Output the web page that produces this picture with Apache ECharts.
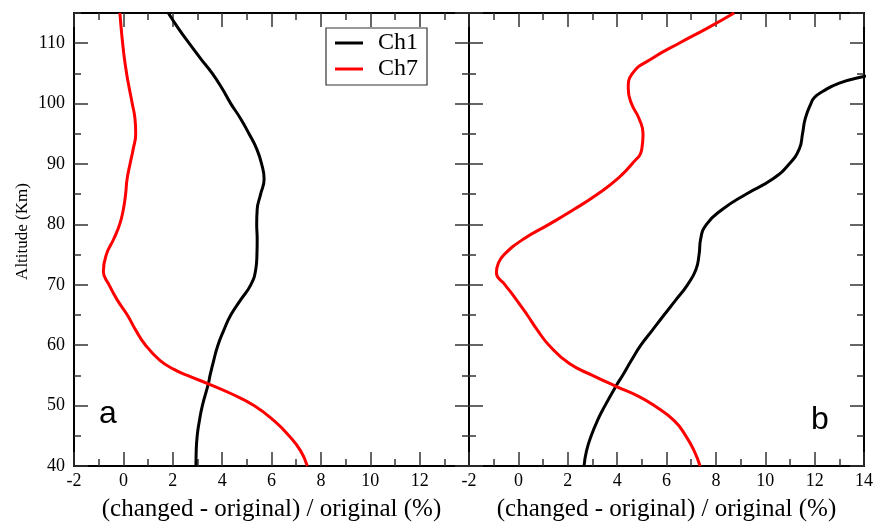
<!DOCTYPE html>
<html>
<head>
<meta charset="utf-8">
<script src="https://cdn.jsdelivr.net/npm/echarts@6/dist/echarts.min.js"></script>
<style>
  html, body { margin: 0; padding: 0; background: #fff; }
  #chart { width: 873px; height: 522px; }
</style>
</head>
<body>
<div id="chart"></div>
<script>
// Panel a: relative change (%) versus altitude (km)
const altA1 = [40, 42.5, 45, 47.5, 50, 53.6, 55, 57.5, 60, 62.5, 65, 67.5, 70, 72.5, 75, 77.5, 80, 82.5, 85, 87.5, 90, 92.5, 95, 97.5, 100, 102.5, 105, 107.5, 110, 112.5, 115];
const valA1 = [2.94, 2.95, 2.99, 3.08, 3.2, 3.44, 3.51, 3.66, 3.83, 4.07, 4.35, 4.75, 5.16, 5.36, 5.41, 5.42, 5.40, 5.42, 5.56, 5.70, 5.6, 5.4, 5.09, 4.75, 4.35, 4.0, 3.6, 3.12, 2.66, 2.22, 1.82];
const altA7 = [40, 42.5, 45, 47.5, 50, 52, 53.6, 55, 56, 57.5, 60, 62.5, 65, 67.5, 70, 72.2, 75, 77.5, 80, 82.5, 85, 87.5, 90, 92.5, 95, 97.5, 100, 102.5, 105, 107.5, 110, 112.5, 115];
const valA7 = [7.45, 7.18, 6.71, 6.1, 5.29, 4.35, 3.44, 2.59, 2.05, 1.48, 0.9, 0.5, 0.16, -0.25, -0.58, -0.81, -0.69, -0.4, -0.15, 0.0, 0.09, 0.15, 0.27, 0.40, 0.50, 0.47, 0.36, 0.24, 0.13, 0.04, -0.03, -0.09, -0.14];

// Panel b
const altB1 = [40, 42.5, 45, 47.5, 50, 53.2, 55, 57.5, 60, 62.5, 65, 67.5, 70, 72.5, 75, 77.5, 80, 82.5, 85, 87.5, 90, 92.5, 95, 97.5, 100, 101, 102, 103.4, 104.5, 105.5];
const valB1 = [2.66, 2.76, 2.95, 3.2, 3.51, 3.95, 4.22, 4.58, 4.96, 5.43, 5.9, 6.38, 6.85, 7.19, 7.32, 7.38, 7.62, 8.27, 9.22, 10.3, 10.97, 11.38, 11.51, 11.62, 11.85, 11.99, 12.32, 13.0, 14.0, 15.2];
const altB7 = [40, 42.5, 45, 47.5, 50, 51.5, 53.2, 55, 57, 60, 62.5, 65, 68.1, 70, 72, 73.6, 75, 77.5, 80, 82.5, 85, 87.5, 90, 92.5, 95, 97.5, 100, 102.5, 105, 107.5, 110, 112.5, 115];
const valB7 = [7.36, 7.12, 6.78, 6.31, 5.5, 4.89, 3.95, 3.0, 2.05, 1.24, 0.77, 0.36, -0.18, -0.54, -0.89, -0.81, -0.58, 0.18, 1.24, 2.26, 3.2, 4.0, 4.6, 5.0, 5.05, 4.89, 4.58, 4.45, 4.62, 5.43, 6.51, 7.66, 8.74];

const seriesNames = ['Ch1', 'Ch7'];
const seriesColors = ['#000000', '#ff0000'];
const panelLetters = ['a', 'b'];
const xTitle = '(changed - original) / original (%)';
const yTitle = 'Altitude (Km)';

const SERIF = '"Liberation Serif", "Times New Roman", serif';

function pairs(alts, vals) {
  return alts.map((a, i) => [vals[i], a]);
}

const grids = [
  { left: 74, top: 13, width: 395, height: 453, outerBoundsMode: 'none', containLabel: false },
  { left: 469, top: 13, width: 395, height: 453, outerBoundsMode: 'none', containLabel: false }
];

const tickLine = { color: '#333', width: 1.5 };
const axisLineStyle = { show: true, onZero: false, lineStyle: { color: '#000', width: 2 } };

const xAxes = [];
const yAxes = [];
grids.forEach((g, gi) => {
  ['bottom', 'top'].forEach(pos => {
    xAxes.push({
      type: 'value', gridIndex: gi, position: pos,
      min: -2, max: 14, interval: 2,
      axisLine: axisLineStyle,
      axisTick: { show: true, inside: true, length: 14, lineStyle: tickLine },
      minorTick: { show: true, splitNumber: 2, length: 7, lineStyle: tickLine },
      splitLine: { show: false },
      axisLabel: {
        show: pos === 'bottom', margin: 6, color: '#000',
        fontFamily: SERIF, fontSize: 18,
        showMaxLabel: gi === 1
      },
      name: pos === 'bottom' ? xTitle : '',
      nameLocation: 'middle', nameGap: 31,
      nameTextStyle: { fontFamily: SERIF, fontSize: 25, color: '#000' }
    });
  });
  ['left', 'right'].forEach(pos => {
    // major ticks every 10 km
    yAxes.push({
      type: 'value', gridIndex: gi, position: pos,
      min: 40, max: 115, interval: 10,
      axisLine: axisLineStyle,
      axisTick: { show: true, inside: true, length: 14, lineStyle: tickLine },
      splitLine: { show: false },
      axisLabel: {
        show: gi === 0 && pos === 'left', margin: 9, color: '#000',
        fontFamily: SERIF, fontSize: 18, showMaxLabel: false
      },
      name: gi === 0 && pos === 'left' ? yTitle : '',
      nameLocation: 'middle', nameGap: 43,
      nameTextStyle: { fontFamily: SERIF, fontSize: 17, color: '#000', padding: [0, 0, 0, 16] }
    });
    // minor ticks every 5 km
    yAxes.push({
      type: 'value', gridIndex: gi, position: pos,
      min: 40, max: 115, interval: 5,
      axisLine: { show: false, onZero: false },
      axisTick: { show: true, inside: true, length: 7, lineStyle: tickLine },
      splitLine: { show: false },
      axisLabel: { show: false }
    });
  });
});

function lineSeries(name, color, data, xi, yi) {
  return {
    type: 'line', name, data,
    xAxisIndex: xi, yAxisIndex: yi,
    showSymbol: false, smooth: 0.5,
    lineStyle: { color, width: 3 },
    itemStyle: { color },
    clip: true, animation: false
  };
}

const series = [
  lineSeries(seriesNames[0], seriesColors[0], pairs(altA1, valA1), 0, 0),
  lineSeries(seriesNames[1], seriesColors[1], pairs(altA7, valA7), 0, 0),
  lineSeries(seriesNames[0], seriesColors[0], pairs(altB1, valB1), 2, 4),
  lineSeries(seriesNames[1], seriesColors[1], pairs(altB7, valB7), 2, 4)
];

const chart = echarts.init(document.getElementById('chart'), null, { renderer: 'canvas' });
chart.setOption({
  backgroundColor: '#fff',
  animation: false,
  grid: grids,
  xAxis: xAxes,
  yAxis: yAxes,
  legend: {
    data: seriesNames,
    orient: 'vertical',
    left: 326, top: 28,
    icon: 'rect', itemWidth: 28, itemHeight: 3, itemGap: 2,
    padding: [3, 9, 4, 9],
    borderColor: '#333', borderWidth: 1.2,
    backgroundColor: '#fff',
    textStyle: { fontFamily: SERIF, fontSize: 24, lineHeight: 24, color: '#000', padding: [0, 0, 0, 10] }
  },
  graphic: [
    { type: 'text', left: 99, top: 398, style: { text: panelLetters[0], font: '32px "Liberation Sans", Arial, sans-serif', fill: '#000' } },
    { type: 'text', left: 811, top: 404, style: { text: panelLetters[1], font: '32px "Liberation Sans", Arial, sans-serif', fill: '#000' } }
  ],
  series
});
</script>
</body>
</html>
